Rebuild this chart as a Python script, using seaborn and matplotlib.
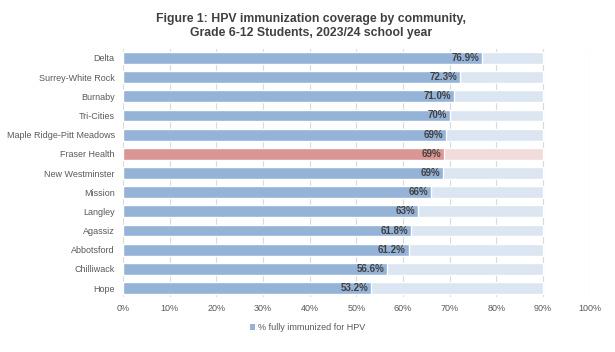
import matplotlib
matplotlib.use("Agg")
import matplotlib.pyplot as plt
from matplotlib.patches import Patch
from matplotlib.ticker import PercentFormatter
import pandas as pd
import seaborn as sns

# data
communities = ["Delta", "Surrey-White Rock", "Burnaby", "Tri-Cities",
               "Maple Ridge-Pitt Meadows", "Fraser Health", "New Westminster",
               "Mission", "Langley", "Agassiz", "Abbotsford", "Chilliwack", "Hope"]
coverage = [76.9, 72.3, 71.0, 70.0, 69.2, 68.7, 68.5, 65.9, 63.3, 61.8, 61.2, 56.6, 53.2]
value_labels = ["76.9%", "72.3%", "71.0%", "70%", "69%", "69%", "69%",
                "66%", "63%", "61.8%", "61.2%", "56.6%", "53.2%"]
target = [90] * len(communities)
highlight = "Fraser Health"

df = pd.DataFrame({"Community": communities, "Coverage": coverage, "Target": target})

blue, blue_bg = "#95B3D7", "#DCE6F2"
red, red_bg = "#D99694", "#F2DCDB"
fg_pal = {c: (red if c == highlight else blue) for c in communities}
bg_pal = {c: (red_bg if c == highlight else blue_bg) for c in communities}

sns.set_style("white")
plt.rcParams["font.family"] = ["Liberation Sans", "DejaVu Sans"]

fig = plt.figure(figsize=(6.15, 3.52), dpi=100)
ax = fig.add_axes([0.2, 0.156, 0.759, 0.705])

# light background bars up to 90%, then the actual coverage on top
sns.barplot(data=df, x="Target", y="Community", hue="Community", palette=bg_pal,
            legend=False, width=0.62, saturation=1, ax=ax, zorder=2)
sns.barplot(data=df, x="Coverage", y="Community", hue="Community", palette=fg_pal,
            legend=False, width=0.62, saturation=1, ax=ax, zorder=3)

for i, (v, lab) in enumerate(zip(coverage, value_labels)):
    ax.text(v - 0.6, i, lab, ha="right", va="center", fontsize=7,
            fontweight="bold", color="#404040", zorder=4)

ax.set_xlim(0, 100)
ax.set_ylim(len(communities) - 0.53, -0.47)
ax.set_xticks(range(0, 101, 10))
ax.xaxis.set_major_formatter(PercentFormatter(decimals=0))
ax.grid(axis="x", color="#D9D9D9", linewidth=0.8, zorder=0)
ax.set_axisbelow(True)
for s in ax.spines.values():
    s.set_visible(False)
ax.tick_params(axis="both", length=0, labelsize=6.5, labelcolor="#595959")
ax.tick_params(axis="x", pad=5)
ax.tick_params(axis="y", pad=6)
ax.set_xlabel("")
ax.set_ylabel("")

fig.suptitle("Figure 1: HPV immunization coverage by community,\n"
             "Grade 6-12 Students, 2023/24 school year",
             x=0.505, y=0.963, fontsize=8.8, fontweight="bold", color="#404040",
             linespacing=1.2)

fig.legend(handles=[Patch(facecolor=blue, edgecolor="none")],
           labels=["% fully immunized for HPV"], loc="center",
           bbox_to_anchor=(0.5, 0.07), frameon=False, fontsize=6.5,
           labelcolor="#595959", handlelength=0.6, handleheight=0.6,
           handletextpad=0.3)

fig.savefig("out.png", dpi=100)
